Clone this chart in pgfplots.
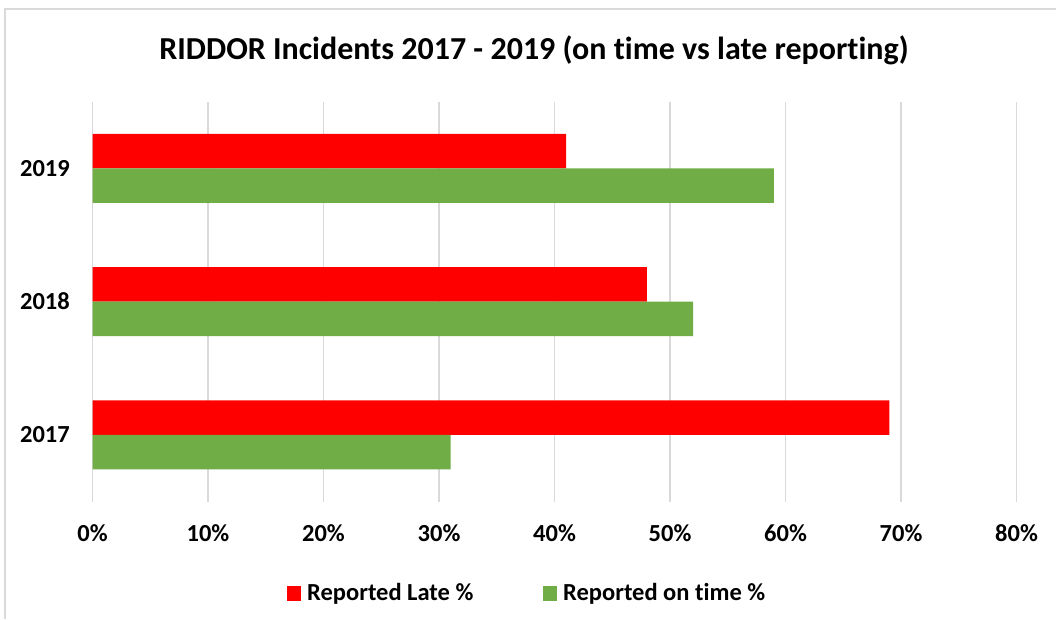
\documentclass[border=0pt]{standalone}
\usepackage{pgfplots}
\pgfplotsset{compat=1.18}
\usepackage{fontspec}
\setmainfont{Carlito}[RawFeature={-liga}]
\definecolor{lateRed}{HTML}{FF0000}
\definecolor{onGreen}{HTML}{70AD47}
\definecolor{gridGray}{HTML}{D9D9D9}
\begin{document}
\begin{tikzpicture}[x=1pt,y=1pt]
\useasboundingbox (0,0) rectangle (1056,619);
% chart frame (top and left visible)
\draw[gridGray,line width=1.5pt] (5,0) -- (5,610) -- (1056,610);
\begin{axis}[
  at={(92.5pt,117.4pt)}, anchor=south west,
  scale only axis, width=924pt, height=400pt,
  xbar, bar width=34.5pt,
  xmin=0, xmax=80, ymin=-0.5, ymax=2.5,
  xtick={0,10,...,80},
  xticklabels={0\%,10\%,20\%,30\%,40\%,50\%,60\%,70\%,80\%},
  ytick={0,1,2}, yticklabels={2017,2018,2019},
  xmajorgrids, grid style={gridGray,line width=1.5pt},
  axis line style={draw=none}, major tick length=0pt,
  tick label style={font=\fontsize{24.5}{29}\selectfont\bfseries},
  xticklabel style={anchor=center, yshift=-31.5pt, inner sep=0pt},
  yticklabel style={anchor=east, xshift=-22.5pt, inner sep=0pt},
  clip=false,
]
\addplot[fill=lateRed, draw=none, bar shift=17.25pt] coordinates {(69,0) (48,1) (41,2)};
\addplot[fill=onGreen, draw=none, bar shift=-17.25pt] coordinates {(31,0) (52,1) (59,2)};
\end{axis}
% title
\node[anchor=base, inner sep=0pt, font=\fontsize{32}{38}\selectfont\bfseries] at (534,559) {RIDDOR Incidents 2017 - 2019 (on time vs late reporting)};
% legend
\fill[lateRed] (287,18) rectangle (301,33);
\node[anchor=base west, inner sep=0pt, font=\fontsize{24.5}{29}\selectfont\bfseries] at (307,18.3) {Reported Late \%};
\fill[onGreen] (543,18) rectangle (557,33);
\node[anchor=base west, inner sep=0pt, font=\fontsize{24.5}{29}\selectfont\bfseries] at (563,18.3) {Reported on time \%};
\end{tikzpicture}
\end{document}
